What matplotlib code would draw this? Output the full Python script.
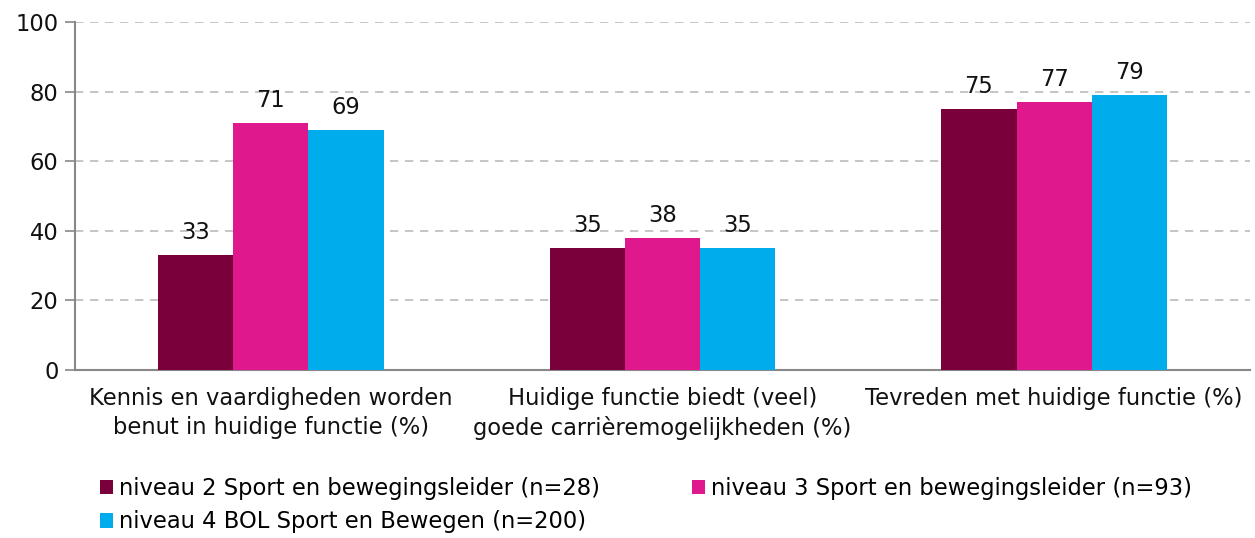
import matplotlib
matplotlib.use("Agg")
import matplotlib.pyplot as plt
import numpy as np

categories = ["Kennis en vaardigheden worden\nbenut in huidige functie (%)",
              "Huidige functie biedt (veel)\ngoede carrièremogelijkheden (%)",
              "Tevreden met huidige functie (%)"]
series_names = ["niveau 2 Sport en bewegingsleider (n=28)",
                "niveau 3 Sport en bewegingsleider (n=93)",
                "niveau 4 BOL Sport en Bewegen (n=200)"]
niveau2 = [33, 35, 75]
niveau3 = [71, 38, 77]
niveau4 = [69, 35, 79]
yticks = [0, 20, 40, 60, 80, 100]

colors = ["#7A003C", "#E0188E", "#00ACEC"]
plt.rcParams['font.family'] = ['DejaVu Sans']
FS = 16.3

fig = plt.figure(figsize=(12.55, 5.38), dpi=100)
ax = fig.add_axes([0.0598, 0.3123, 0.9362, 0.6467])

x = np.arange(len(categories))
w = 0.192
for i, (vals, name, c) in enumerate(zip([niveau2, niveau3, niveau4], series_names, colors)):
    ax.bar(x + (i - 1) * w, vals, w, color=c, label=name, zorder=3)
    for xi, v in zip(x + (i - 1) * w, vals):
        ax.text(xi, v + 3.2, str(v), ha="center", va="bottom", fontsize=FS, color="#111111")

ax.set_xlim(-0.5, 2.5)
ax.set_ylim(0, 100)
ax.set_yticks(yticks)
ax.tick_params(axis="y", labelsize=FS, length=7, color="#888888", width=1.2, pad=5, labelcolor="#111111")
ax.tick_params(axis="x", length=0, labelsize=FS, pad=12, labelcolor="#111111")
ax.set_xticks(x)
ax.set_xticklabels(categories, linespacing=1.35)
ax.yaxis.grid(True, linestyle=(0, (5, 4)), color="#bbbbbb", linewidth=1.2, zorder=0)
for s in ["top", "right"]:
    ax.spines[s].set_visible(False)
ax.spines["left"].set_color("#888888")
ax.spines["left"].set_linewidth(1.5)
ax.spines["bottom"].set_color("#888888")
ax.spines["bottom"].set_linewidth(1.5)

handles, labels = ax.get_legend_handles_labels()
order = [0, 2, 1]
fig.legend([handles[k] for k in order], [labels[k] for k in order],
           loc="upper left", bbox_to_anchor=(0.0794, 0.113),
           ncol=2, frameon=False, fontsize=FS, handlelength=0.6, handleheight=0.6,
           handletextpad=0.25, columnspacing=4.05, labelspacing=0.45,
           borderaxespad=0, borderpad=0)

fig.savefig("out.png", dpi=100)
